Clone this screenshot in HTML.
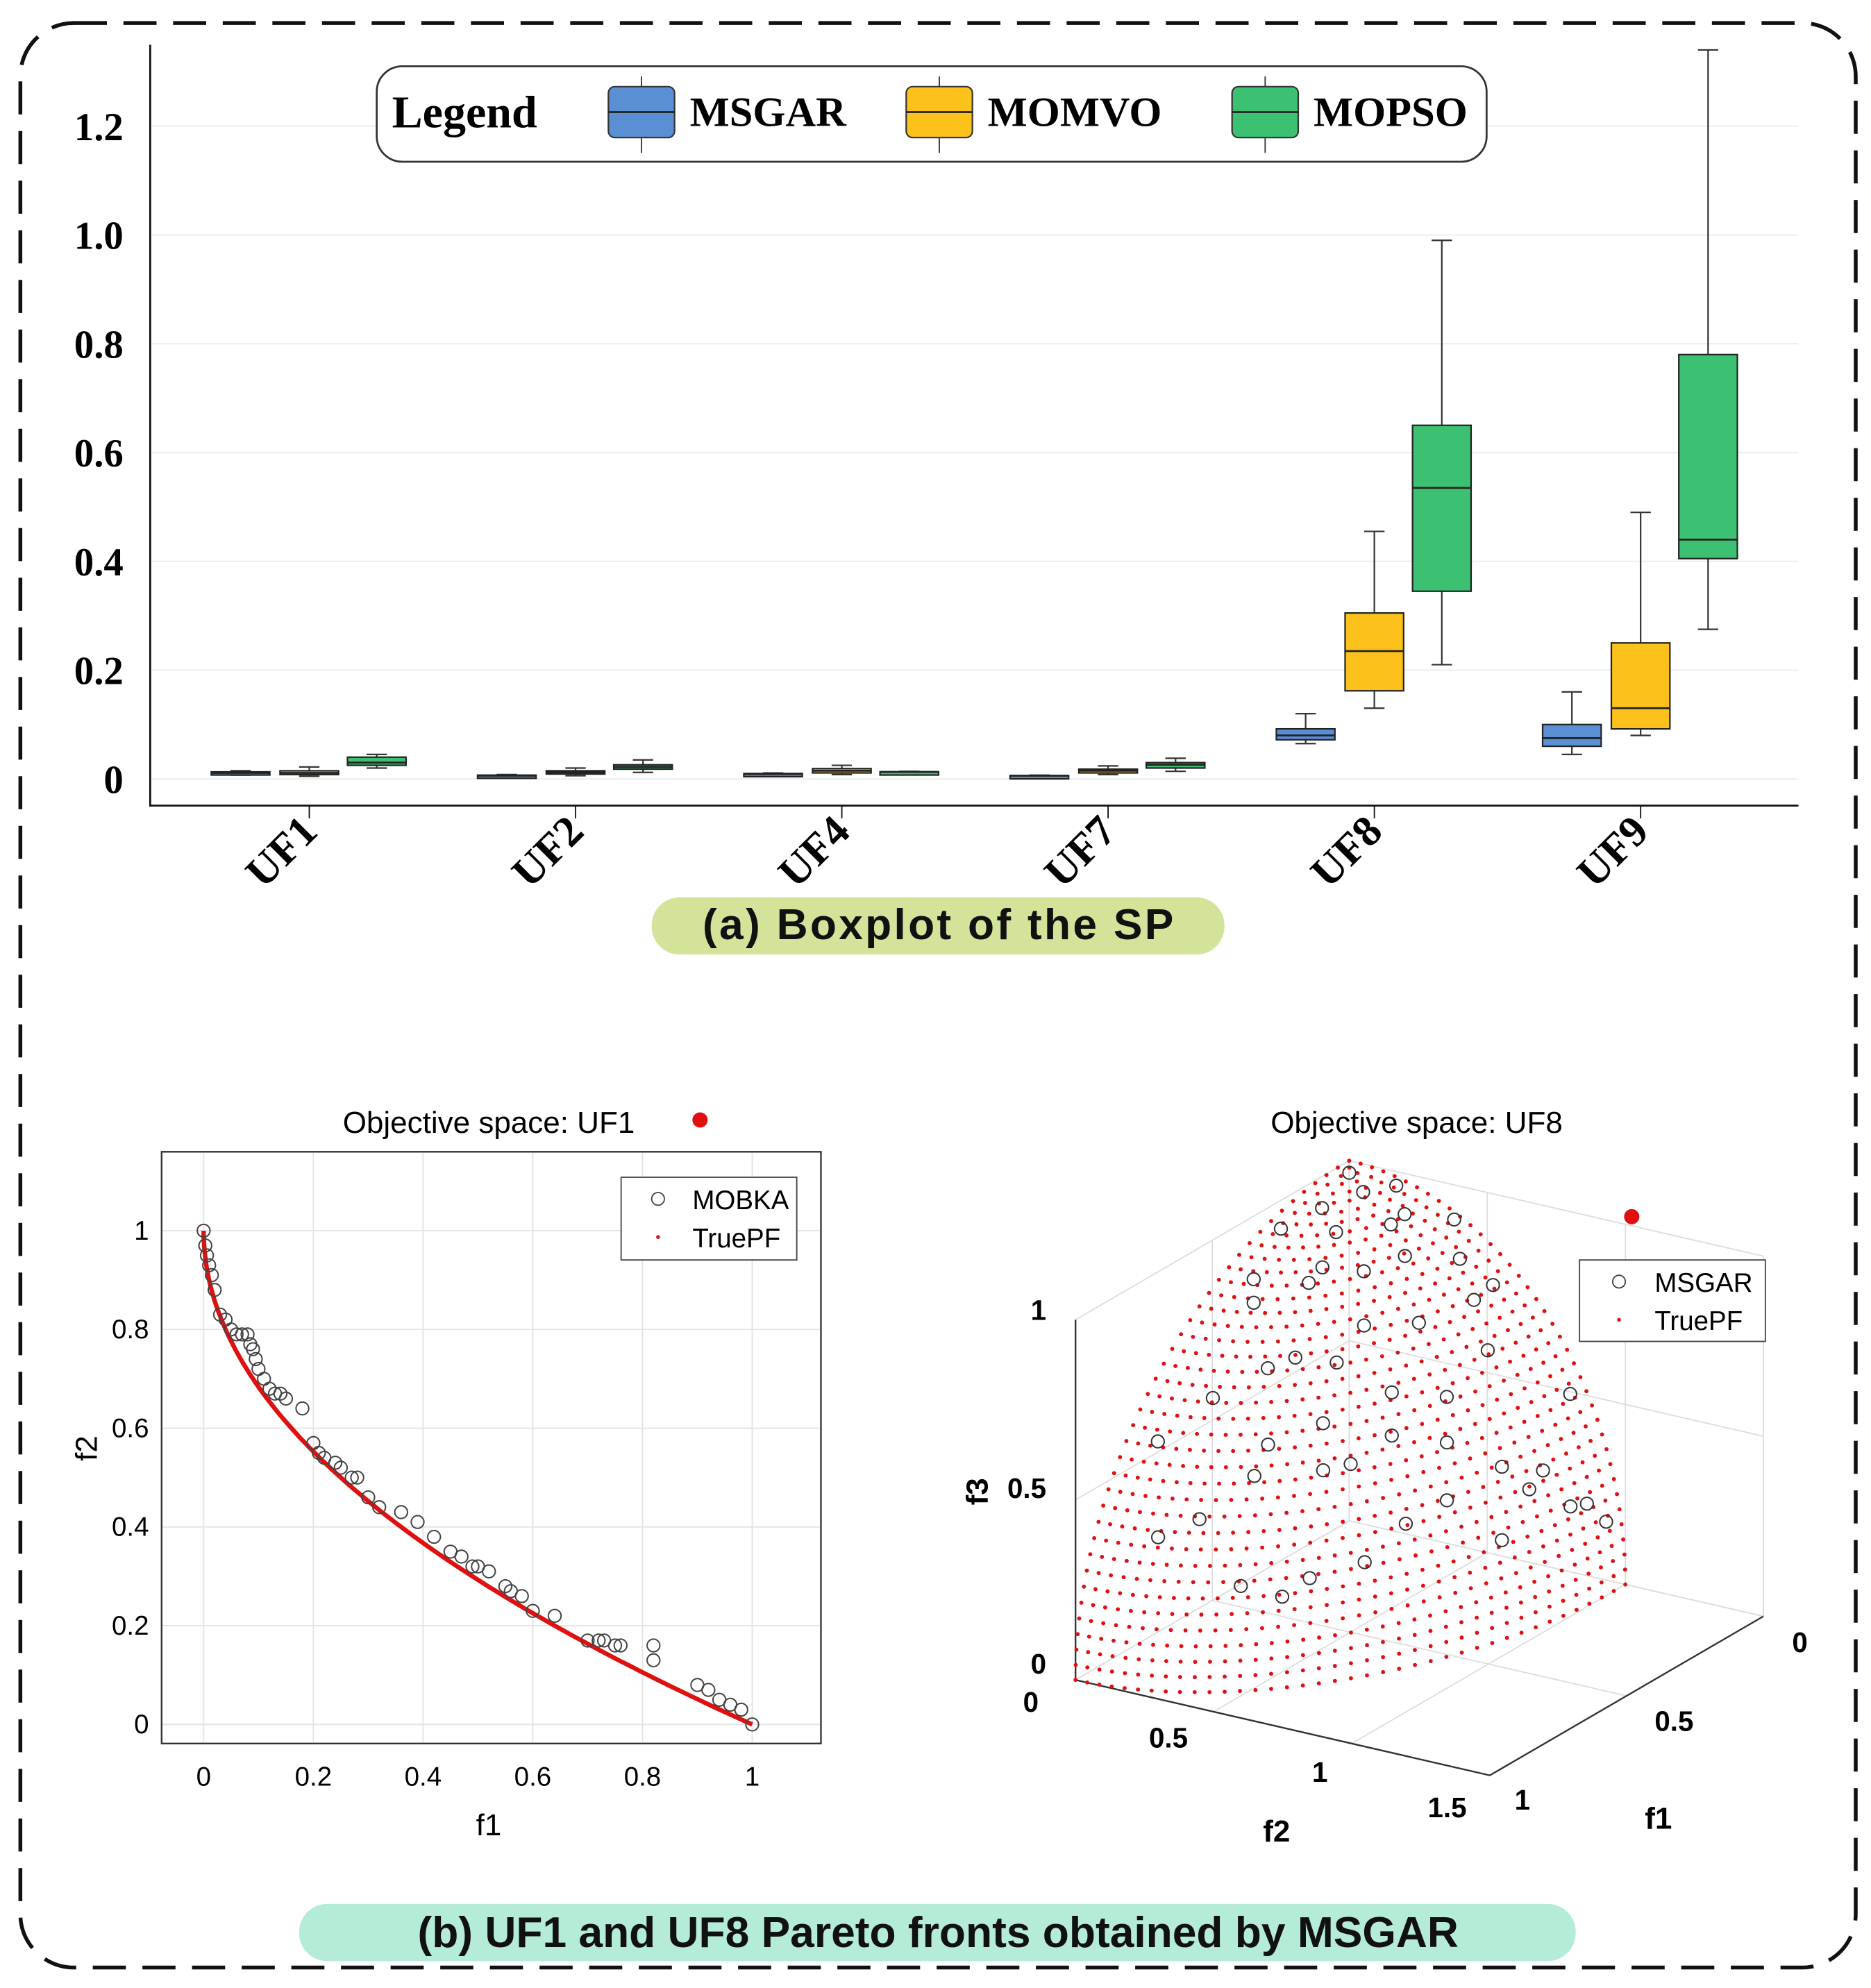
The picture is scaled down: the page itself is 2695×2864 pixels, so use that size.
<!DOCTYPE html>
<html><head><meta charset="utf-8"><style>
html,body{margin:0;padding:0;background:#fff}
svg{display:block}
.serif{font-family:"Liberation Serif",serif;font-weight:bold}
.sans{font-family:"Liberation Sans",sans-serif}
</style></head><body>
<svg id="fig" width="2695" height="2864" viewBox="0 0 1470 1562" xmlns="http://www.w3.org/2000/svg">
<rect x="16" y="18" width="1442" height="1528" rx="42" fill="none" stroke="#111" stroke-width="3" stroke-dasharray="26 13"/>
<g id="boxplot"></g>
<rect x="512" y="705" width="450" height="45" rx="22" fill="#d3e49a"/>
<text x="737" y="738" text-anchor="middle" font-family="Liberation Sans, sans-serif" font-weight="bold" font-size="34" fill="#111" textLength="370">(a) Boxplot of the SP</text>
<g id="uf1"></g>
<g id="uf8"></g>
<rect x="235" y="1496" width="1003" height="45" rx="22" fill="#b4ecd8"/>
<text x="737" y="1530" text-anchor="middle" font-family="Liberation Sans, sans-serif" font-weight="bold" font-size="34" fill="#111">(b) UF1 and UF8 Pareto fronts obtained by MSGAR</text>
</svg>
<script>
// ---------- Boxplot data ----------
const categories = ["UF1","UF2","UF4","UF7","UF8","UF9"];
const seriesNames = ["MSGAR","MOMVO","MOPSO"];
const seriesColors = ["#5b8fd4","#fcc21b","#3cc172"];
// each entry: [min, q1, median, q3, max]
const msgarStats = [[.007,.009,.011,.013,.015],[.004,.005,.006,.007,.008],[.007,.008,.009,.010,.011],[.004,.005,.006,.006,.007],[.065,.072,.08,.092,.12],[.045,.06,.075,.1,.16]];
const momvoStats = [[.005,.008,.011,.015,.022],[.006,.009,.012,.015,.02],[.008,.011,.015,.019,.025],[.008,.011,.015,.018,.024],[.13,.162,.235,.305,.455],[.08,.092,.13,.25,.49]];
const mopsoStats = [[.02,.025,.03,.04,.045],[.012,.018,.022,.026,.035],[.011,.012,.013,.013,.014],[.014,.02,.026,.03,.038],[.21,.345,.535,.65,.99],[.275,.405,.44,.78,1.34]];
const yTicks = [0,0.2,0.4,0.6,0.8,1.0,1.2];
const yTickLabels = ["0","0.2","0.4","0.6","0.8","1.0","1.2"];

// ---------- UF1 data ----------
const uf1F1 = [0,0.003,0.006,0.01,0.015,0.02,0.03,0.04,0.05,0.06,0.07,0.08,0.085,0.09,0.095,0.1,0.11,0.12,0.13,0.14,0.15,0.18,0.2,0.21,0.22,0.24,0.25,0.27,0.28,0.3,0.32,0.36,0.39,0.42,0.45,0.47,0.49,0.5,0.52,0.55,0.56,0.58,0.6,0.64,0.7,0.72,0.73,0.75,0.76,0.82,0.82,0.9,0.92,0.94,0.96,0.98,1.0];
const uf1F2 = [1.0,0.97,0.95,0.93,0.91,0.88,0.83,0.82,0.8,0.79,0.79,0.79,0.77,0.76,0.74,0.72,0.7,0.68,0.67,0.67,0.66,0.64,0.57,0.55,0.54,0.53,0.52,0.5,0.5,0.46,0.44,0.43,0.41,0.38,0.35,0.34,0.32,0.32,0.31,0.28,0.27,0.26,0.23,0.22,0.17,0.17,0.17,0.16,0.16,0.16,0.13,0.08,0.07,0.05,0.04,0.03,0.0];
const uf1XTicks = [0,0.2,0.4,0.6,0.8,1];
const uf1YTicks = [0,0.2,0.4,0.6,0.8,1];

// ---------- UF8 data ----------
const uf8F1 = [0.05,0.1,0.15,0.2,0.3,0.35,0.4,0.5,0.55,0.6,0.7,0.75,0.8,0.85,0.9,0.1,0.2,0.3,0.45,0.55,0.65,0.75,0.85,0.05,0.15,0.25,0.35,0.45,0.6,0.7,0.8,0.2,0.3,0.4,0.5,0.6,0.1,0.25,0.4,0.5,0.65,0.15,0.3,0.45,0.2,0.35,0.05,0.1,0.08,0.02,0.03];
const uf8F2 = [0.05,0.15,0.3,0.1,0.05,0.25,0.45,0.15,0.35,0.6,0.2,0.4,0.1,0.3,0.2,0.5,0.7,0.85,0.6,0.75,0.55,0.6,0.45,0.85,0.95,0.9,0.7,0.8,0.5,0.4,0.55,0.4,0.55,0.25,0.65,0.3,0.3,0.2,0.75,0.45,0.7,0.6,0.35,0.1,0.9,0.9,0.98,0.96,0.6,0.4,0.2];

const NS="http://www.w3.org/2000/svg";
function mk(parent,tag,attrs,text){const e=document.createElementNS(NS,tag);for(const k in attrs)e.setAttribute(k,attrs[k]);if(text!==undefined)e.textContent=text;parent.appendChild(e);return e;}

// ---------- Boxplot ----------
(function(){
  const g=document.getElementById('boxplot');
  const X0=118,X1=1413,Ytop=35,Ybot=633;
  const y=v=>612-v*427.5;
  const cx=i=>243+i*209.2;
  const offs=[-54,0,53], bw=46;
  yTicks.forEach((t,i)=>{
    const gl=mk(g,'line',{x1:X0,x2:X1,y1:y(t),y2:y(t),stroke:'#ececec','stroke-width':1});
    
    
    const tl=mk(g,'text',{x:97,y:y(t)+11,'text-anchor':'end',class:'serif','font-size':31},yTickLabels[i]);
    
    
  });
  const ax=mk(g,'path',{d:`M${X0} ${Ytop}V${Ybot}H${X1}`,fill:'none',stroke:'#111','stroke-width':1.5});
  
  
  const all=[msgarStats,momvoStats,mopsoStats];
  categories.forEach((c,i)=>{
    const tk=mk(g,'line',{x1:cx(i),x2:cx(i),y1:Ybot,y2:Ybot+10,stroke:'#111'});
    
    
    const lbl=mk(g,'text',{x:0,y:0,transform:`translate(${cx(i)+8},${Ybot+22}) rotate(-45)`,'text-anchor':'end',class:'serif','font-size':34},c);
    
    
    all.forEach((arr,s)=>{
      const [mn,q1,md,q3,mx]=arr[i]; const x=cx(i)+offs[s];
      const bg=mk(g,'g',{});
      
      
      mk(bg,'line',{x1:x,x2:x,y1:y(mx),y2:y(mn),stroke:'#333','stroke-width':1.2});
      mk(bg,'line',{x1:x-8,x2:x+8,y1:y(mx),y2:y(mx),stroke:'#333','stroke-width':1.2});
      mk(bg,'line',{x1:x-8,x2:x+8,y1:y(mn),y2:y(mn),stroke:'#333','stroke-width':1.2});
      mk(bg,'rect',{x:x-bw/2,y:y(q3),width:bw,height:Math.max(2.5,y(q1)-y(q3)),fill:seriesColors[s],stroke:'#222','stroke-width':1.2});
      mk(bg,'line',{x1:x-bw/2,x2:x+bw/2,y1:y(md),y2:y(md),stroke:'#222','stroke-width':1.5});
    });
  });
  const lg=mk(g,'g',{});
  
  
  mk(lg,'rect',{x:296,y:52,width:872,height:75,rx:20,fill:'#fff',stroke:'#333','stroke-width':1.5});
  mk(lg,'text',{x:308,y:100,class:'serif','font-size':36},'Legend');
  const lx=[478,712,968];
  seriesNames.forEach((n,s)=>{
    const e=mk(lg,'g',{});
    
    
    mk(e,'line',{x1:lx[s]+26,x2:lx[s]+26,y1:60,y2:120,stroke:'#333'});
    mk(e,'rect',{x:lx[s],y:68,width:52,height:40,rx:5,fill:seriesColors[s],stroke:'#333','stroke-width':1.2});
    mk(e,'line',{x1:lx[s],x2:lx[s]+52,y1:88,y2:88,stroke:'#222','stroke-width':1.5});
    mk(e,'text',{x:lx[s]+64,y:99,class:'serif','font-size':33},n);
  });
})();

// ---------- UF1 ----------
(function(){
  const g=document.getElementById('uf1');
  const x=v=>160+v*431, y=v=>1355-v*388;
  mk(g,'rect',{x:127,y:905,width:518,height:465,fill:'#fff',stroke:'#333','stroke-width':1.2});
  uf1XTicks.forEach(t=>{
    const l=mk(g,'line',{x1:x(t),x2:x(t),y1:905,y2:1370,stroke:'#e3e3e3'});
    
    
    const tx=mk(g,'text',{x:x(t),y:1403,'text-anchor':'middle',class:'sans','font-size':21},String(t));
    
    
  });
  uf1YTicks.forEach(t=>{
    const l=mk(g,'line',{x1:127,x2:645,y1:y(t),y2:y(t),stroke:'#e3e3e3'});
    
    
    const tx=mk(g,'text',{x:117,y:y(t)+7,'text-anchor':'end',class:'sans','font-size':21},String(t));
    
    
  });
  mk(g,'rect',{x:127,y:905,width:518,height:465,fill:'none',stroke:'#333','stroke-width':1.2});
  let d='';for(let k=0;k<=100;k++){const f=(k/100)**2;d+=(k?'L':'M')+x(f).toFixed(1)+' '+y(1-Math.sqrt(f)).toFixed(1);}
  const pf=mk(g,'path',{d:d,fill:'none',stroke:'#e01010','stroke-width':3.5});
  
  
  uf1F1.forEach((f,i)=>{
    const c=mk(g,'circle',{cx:x(f),cy:y(uf1F2[i]),r:5,fill:'none',stroke:'#444','stroke-width':1.1});
    
    
  });
  const lg=mk(g,'g',{});
  
  
  mk(lg,'rect',{x:488,y:925,width:138,height:65,fill:'#fff',stroke:'#444'});
  mk(lg,'circle',{cx:517,cy:942,r:5,fill:'none',stroke:'#444'});
  mk(lg,'text',{x:544,y:950,class:'sans','font-size':21},'MOBKA');
  mk(lg,'circle',{cx:517,cy:972,r:1.5,fill:'#e01010'});
  mk(lg,'text',{x:544,y:980,class:'sans','font-size':21},'TruePF');
  const t=mk(g,'text',{x:384,y:890,'text-anchor':'middle',class:'sans','font-size':24},'Objective space: UF1');
  
  
  const rd=mk(g,'circle',{cx:550,cy:880,r:6,fill:'#e01010'});
  
  
  const xl=mk(g,'text',{x:384,y:1442,'text-anchor':'middle',class:'sans','font-size':24},'f1');
  
  
  const yl=mk(g,'text',{x:0,y:0,transform:'translate(76,1138) rotate(-90)','text-anchor':'middle',class:'sans','font-size':24},'f2');
  
  
})();

// ---------- UF8 3D ----------
(function(){
  const g=document.getElementById('uf8');
  const P=(a,b,c)=>[1060-215*a+217*b, 1195+125*a+50*b-283*c];
  const ln=(p,q,st,w)=>mk(g,'line',{x1:p[0],y1:p[1],x2:q[0],y2:q[1],stroke:st,'stroke-width':w||1});
  [0,0.5,1].forEach(v=>{ ln(P(1,0,v),P(0,0,v),'#ddd'); ln(P(0,0,v),P(0,1.5,v),'#ddd'); });
  [0,0.5,1].forEach(v=>{ ln(P(v,0,0),P(v,0,1),'#ddd'); ln(P(v,0,0),P(v,1.5,0),'#ddd'); });
  [0,0.5,1,1.5].forEach(v=>{ ln(P(0,v,0),P(0,v,1),'#ddd'); ln(P(0,v,0),P(1,v,0),'#ddd'); });
  const axg=mk(g,'g',{});
  
  
  mk(axg,'path',{d:`M${P(1,0,1)}L${P(1,0,0)}L${P(1,1.5,0)}L${P(0,1.5,0)}`.replace(/,/g,' '),fill:'none',stroke:'#333','stroke-width':1.3});
  for(let i=0;i<=38;i++){const th=i/38*Math.PI/2;
    const n=Math.max(1,Math.round(38*Math.sin(th)));
    for(let j=0;j<=n;j++){const ph=j/n*Math.PI/2;
      const a=Math.sin(th)*Math.cos(ph), b=Math.sin(th)*Math.sin(ph), c=Math.cos(th);
      const p=P(a,b,c);
      const d=mk(g,'circle',{cx:p[0].toFixed(1),cy:p[1].toFixed(1),r:1.6,fill:'#e01010'});
      
      
    }}
  uf8F1.forEach((a,i)=>{const b=uf8F2[i];const s=a*a+b*b;const c=s<1?Math.sqrt(1-s):0;const p=P(a,b,c);
    const e=mk(g,'circle',{cx:p[0].toFixed(1),cy:p[1].toFixed(1),r:5,fill:'none',stroke:'#333','stroke-width':1.1});
    
    });
  const txt=(x,y,s,name,extra)=>{const t=mk(g,'text',Object.assign({x:x,y:y,class:'sans','font-size':22,'font-weight':'bold'},extra||{}),s);return t;};
  txt(822,1037,'1','z-tick-label',{'text-anchor':'end'});
  txt(822,1177,'0.5','z-tick-label',{'text-anchor':'end'});
  txt(822,1315,'0','z-tick-label',{'text-anchor':'end'});
  txt(816,1345,'0','y-tick-label',{'text-anchor':'end'});
  txt(918,1373,'0.5','y-tick-label',{'text-anchor':'middle'});
  txt(1037,1400,'1','y-tick-label',{'text-anchor':'middle'});
  txt(1137,1428,'1.5','y-tick-label',{'text-anchor':'middle'});
  txt(1408,1298,'0','x-tick-label');
  txt(1300,1360,'0.5','x-tick-label');
  txt(1190,1422,'1','x-tick-label');
  txt(1003,1447,'f2','y-axis-title',{'text-anchor':'middle','font-size':24});
  txt(1303,1437,'f1','x-axis-title',{'text-anchor':'middle','font-size':24});
  txt(0,0,'f3','z-axis-title',{transform:'translate(776,1172) rotate(-90)','text-anchor':'middle','font-size':24});
  const t=mk(g,'text',{x:1113,y:890,'text-anchor':'middle',class:'sans','font-size':24},'Objective space: UF8');
  
  
  const rd=mk(g,'circle',{cx:1282,cy:956,r:6,fill:'#e01010'});
  
  
  const lg=mk(g,'g',{});
  
  
  mk(lg,'rect',{x:1241,y:990,width:146,height:64,fill:'#fff',stroke:'#444'});
  mk(lg,'circle',{cx:1272,cy:1007,r:5,fill:'none',stroke:'#444'});
  mk(lg,'text',{x:1300,y:1015,class:'sans','font-size':21},'MSGAR');
  mk(lg,'circle',{cx:1272,cy:1037,r:1.5,fill:'#e01010'});
  mk(lg,'text',{x:1300,y:1045,class:'sans','font-size':21},'TruePF');
})();
</script>
</body></html>
